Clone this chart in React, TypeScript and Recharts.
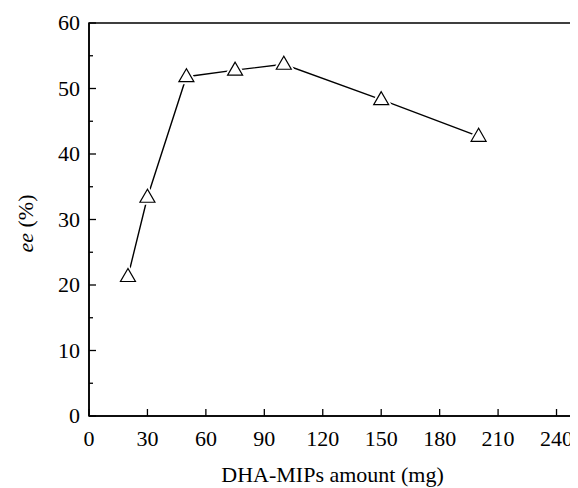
import React from "react";
import { LineChart, Line, XAxis, YAxis, ReferenceArea, Label } from "recharts";

const amounts = [20, 30, 50, 75, 100, 150, 200];
const eeValues = [21.3, 33.4, 51.8, 52.8, 53.7, 48.3, 42.7];
const xTicks = [0, 30, 60, 90, 120, 150, 180, 210, 240];
const yTicks = [0, 5, 10, 15, 20, 25, 30, 35, 40, 45, 50, 55, 60];
const xTitle = "DHA-MIPs amount (mg)";
const yTitleItalic = "ee";
const yTitleRest = " (%)";

const data = amounts.map((a, i) => ({ amount: a, ee: eeValues[i] }));

const W = 570;
const H = 480;
const PL = 81;
const PT = 15;
const PR = 568;
const PB = 408;
const FONT = "Liberation Serif";
const FS = 22;

function XTick(props: any) {
  const { x, payload } = props;
  return (
    <g>
      <line x1={x} x2={x} y1={PB} y2={PB - 7} stroke="#000" strokeWidth={1.3} />
      <text x={x} y={PB + 30} textAnchor="middle" fontFamily={FONT} fontSize={FS} fill="#000">
        {String(payload.value)}
      </text>
    </g>
  );
}

function YTick(props: any) {
  const { y, payload } = props;
  const major = payload.value % 10 === 0;
  return (
    <g>
      <line x1={PL} x2={PL + (major ? 7 : 4)} y1={y} y2={y} stroke="#000" strokeWidth={1.3} />
      {major ? (
        <text x={PL - 9} y={y + 7} textAnchor="end" fontFamily={FONT} fontSize={FS} fill="#000">
          {String(payload.value)}
        </text>
      ) : null}
    </g>
  );
}

function TriDot(props: any) {
  const { cx, cy, index } = props;
  if (cx == null || cy == null) return <g key={index} />;
  const pts = `${cx},${cy - 8} ${cx - 7.5},${cy + 5} ${cx + 7.5},${cy + 5}`;
  return (
    <g key={index}>
      <polygon points={pts} fill="#fff" stroke="#fff" strokeWidth={5} />
      <polygon points={pts} fill="#fff" stroke="#000" strokeWidth={1.2} />
    </g>
  );
}

function XTitle(_props: any) {
  return (
    <text x={(PL + PR) / 2} y={474} textAnchor="middle" fontFamily={FONT} fontSize={FS} fill="#000">
      {xTitle}
    </text>
  );
}

function YTitle(_props: any) {
  const ycy = (PT + PB) / 2 + 4;
  return (
    <text
      x={25}
      y={ycy}
      transform={`rotate(-90 25 ${ycy})`}
      textAnchor="middle"
      fontFamily={FONT}
      fontSize={FS}
      fill="#000"
    >
      <tspan fontStyle="italic">{yTitleItalic}</tspan>
      <tspan>{yTitleRest}</tspan>
    </text>
  );
}

export default function App() {
  return (
    <div style={{ width: W, height: H, background: "#fff" }}>
      <LineChart
        width={W}
        height={H}
        data={data}
        margin={{ top: PT, right: W - PR, bottom: 0, left: 0 }}
      >
        <XAxis
          dataKey="amount"
          type="number"
          domain={[0, 250]}
          ticks={xTicks}
          height={H - PB}
          tickLine={false}
          axisLine={{ stroke: "#000", strokeWidth: 1.5 }}
          tick={<XTick />}
          interval={0}
        >
          <Label content={<XTitle />} />
        </XAxis>
        <YAxis
          type="number"
          domain={[0, 60]}
          ticks={yTicks}
          width={PL}
          tickLine={false}
          axisLine={{ stroke: "#000", strokeWidth: 1.5 }}
          tick={<YTick />}
          interval={0}
        >
          <Label content={<YTitle />} />
        </YAxis>
        <ReferenceArea
          x1={0}
          x2={250}
          y1={0}
          y2={60}
          fill="#fff"
          fillOpacity={0}
          stroke="#000"
          strokeWidth={1.5}
          ifOverflow="extendDomain"
        />
        <Line
          dataKey="ee"
          stroke="#000"
          strokeWidth={1.4}
          isAnimationActive={false}
          dot={<TriDot />}
          activeDot={false}
        />
      </LineChart>
    </div>
  );
}
